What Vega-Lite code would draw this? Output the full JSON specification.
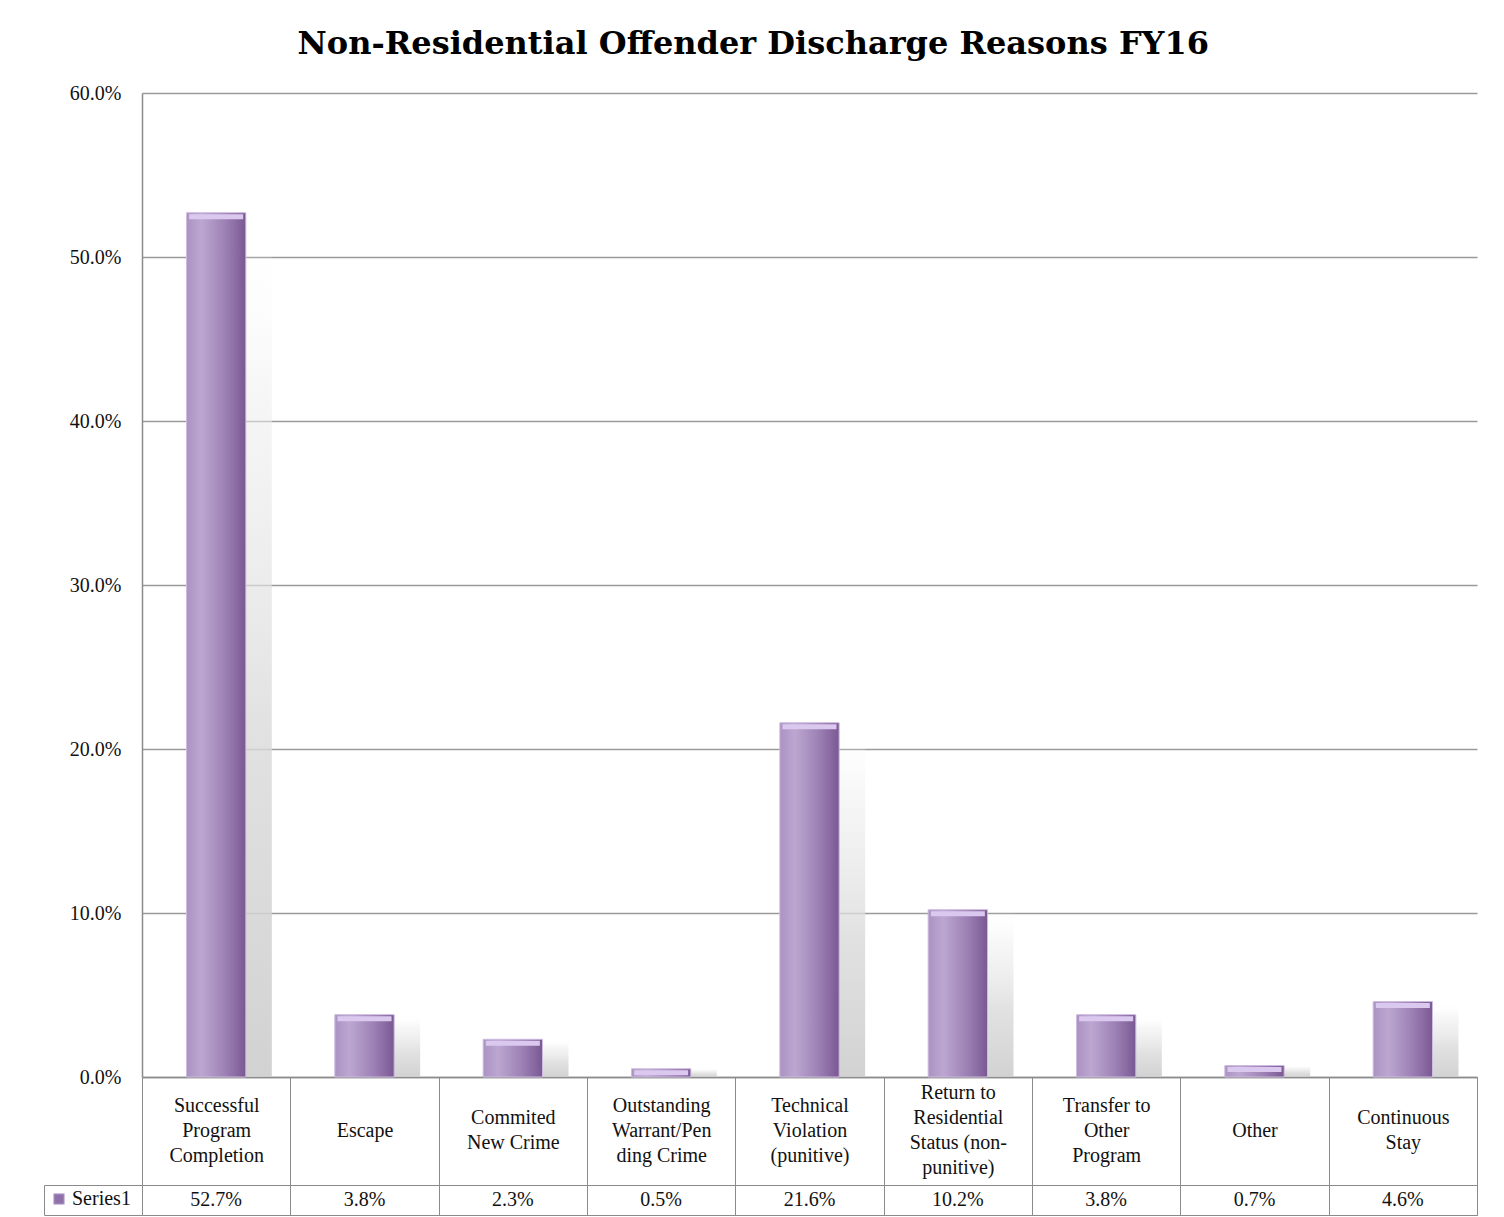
{
  "$schema": "https://vega.github.io/schema/vega-lite/v6.json",
  "background": "white",
  "padding": {"left": 43, "top": 28, "right": 28, "bottom": 2},
  "bounds": "flush",
  "spacing": 108,
  "title": {
    "text": "Non-Residential Offender Discharge Reasons FY16",
    "font": "DejaVu Serif",
    "fontSize": 32,
    "fontWeight": "bold",
    "color": "#000000",
    "anchor": "middle",
    "dx": -7,
    "offset": 22
  },
  "data": {
    "values": [
      {"category": "Successful|Program|Completion", "series": "Series1", "value": 0.527},
      {"category": "Escape", "series": "Series1", "value": 0.038},
      {"category": "Commited|New Crime", "series": "Series1", "value": 0.023},
      {"category": "Outstanding|Warrant/Pen|ding Crime", "series": "Series1", "value": 0.005},
      {"category": "Technical|Violation|(punitive)", "series": "Series1", "value": 0.216},
      {"category": "Return to|Residential|Status (non-|punitive)", "series": "Series1", "value": 0.102},
      {"category": "Transfer to|Other|Program", "series": "Series1", "value": 0.038},
      {"category": "Other", "series": "Series1", "value": 0.007},
      {"category": "Continuous|Stay", "series": "Series1", "value": 0.046}
    ]
  },
  "vconcat": [
    {
      "width": 1335,
      "height": 984,
      "view": {"stroke": null},
      "encoding": {
        "x": {
          "field": "category",
          "type": "nominal",
          "sort": null,
          "scale": {"paddingInner": 0, "paddingOuter": 0},
          "axis": {
            "title": null,
            "orient": "bottom",
            "labelAngle": 0,
            "labelExpr": "split(datum.label, '|')",
            "labelFont": "Liberation Serif",
            "labelFontSize": 20,
            "labelColor": "#111111",
            "labelLineHeight": 25,
            "labelBaseline": "middle",
            "labelPadding": {
              "condition": [
                {"test": "length(split(datum.value, '|')) == 4", "value": -92.5},
                {"test": "length(split(datum.value, '|')) == 3", "value": -80},
                {"test": "length(split(datum.value, '|')) == 2", "value": -67.5}
              ],
              "value": -55
            },
            "labelLimit": 0,
            "tickBand": "extent",
            "tickSize": 108,
            "tickColor": "#8a8a8a",
            "tickWidth": 1,
            "domainColor": "#8a8a8a",
            "domainWidth": 1.5,
            "grid": false
          }
        },
        "y": {
          "field": "value",
          "type": "quantitative",
          "scale": {"domain": [0, 0.6], "nice": false},
          "axis": {
            "title": null,
            "format": ".1%",
            "values": [0, 0.1, 0.2, 0.3, 0.4, 0.5, 0.6],
            "labelFont": "Liberation Serif",
            "labelFontSize": 20,
            "labelColor": "#111111",
            "labelPadding": 21,
            "ticks": false,
            "domainColor": "#8a8a8a",
            "domainWidth": 1.5,
            "grid": true,
            "gridColor": "#9a9a9a",
            "gridWidth": 1.3
          }
        }
      },
      "layer": [
        {
          "mark": {
            "type": "bar",
            "width": {"band": 0.4},
            "xOffset": 26,
            "color": {
              "gradient": "linear",
              "x1": 0, "y1": 0, "x2": 0, "y2": 1,
              "stops": [
                {"offset": 0, "color": "rgba(255,255,255,0)"},
                {"offset": 0.2, "color": "rgba(238,238,238,0.5)"},
                {"offset": 0.6, "color": "rgba(218,218,218,0.8)"},
                {"offset": 1, "color": "rgba(205,205,205,0.9)"}
              ]
            }
          }
        },
        {
          "mark": {
            "type": "bar",
            "width": {"band": 0.4},
            "stroke": "#cdbbe0",
            "strokeWidth": 1,
            "color": {
              "gradient": "linear",
              "x1": 0, "y1": 0, "x2": 1, "y2": 0,
              "stops": [
                {"offset": 0, "color": "#ab92c2"},
                {"offset": 0.25, "color": "#bca7d1"},
                {"offset": 0.65, "color": "#9d81b5"},
                {"offset": 1, "color": "#7a5893"}
              ]
            }
          }
        },
        {
          "mark": {
            "type": "tick",
            "size": 54,
            "thickness": 5,
            "yOffset": 4,
            "color": "#dbc8ef",
            "opacity": 1
          }
        }
      ]
    },
    {
      "width": 1335,
      "height": 30,
      "encoding": {
        "x": {
          "field": "category",
          "type": "nominal",
          "sort": null,
          "scale": {"paddingInner": 0, "paddingOuter": 0},
          "axis": {
            "title": null,
            "orient": "bottom",
            "labels": false,
            "ticks": false,
            "domain": false,
            "grid": true,
            "tickBand": "extent",
            "gridColor": "#8a8a8a",
            "gridWidth": 1
          }
        },
        "y": {
          "field": "series",
          "type": "nominal",
          "scale": {"paddingInner": 0, "paddingOuter": 0},
          "axis": {
            "title": null,
            "labels": false,
            "offset": 98,
            "tickBand": "extent",
            "tickSize": -98,
            "tickColor": "#8a8a8a",
            "domainColor": "#8a8a8a",
            "grid": false
          }
        }
      },
      "layer": [
        {
          "mark": {
            "type": "text",
            "font": "Liberation Serif",
            "fontSize": 20,
            "color": "#111111",
            "baseline": "middle",
            "dy": 0
          },
          "encoding": {
            "text": {"field": "value", "type": "quantitative", "format": ".1%"}
          }
        },
        {
          "mark": {"type": "point", "shape": "square", "filled": true, "opacity": 0},
          "encoding": {
            "color": {
              "field": "series",
              "type": "nominal",
              "scale": {"range": ["#8f70ab"]},
              "legend": {
                "title": null,
                "orient": "none",
                "legendX": -93,
                "legendY": 1096,
                "symbolOpacity": 1,
                "symbolType": "square",
                "symbolSize": 110,
                "symbolStrokeColor": "#c9b6dc",
                "symbolStrokeWidth": 1,
                "labelFont": "Liberation Serif",
                "labelFontSize": 20,
                "labelColor": "#111111",
                "labelOffset": 3,
                "padding": 0
              }
            }
          }
        }
      ]
    }
  ],
  "config": {
    "view": {"stroke": "#8a8a8a", "strokeWidth": 1}
  }
}
